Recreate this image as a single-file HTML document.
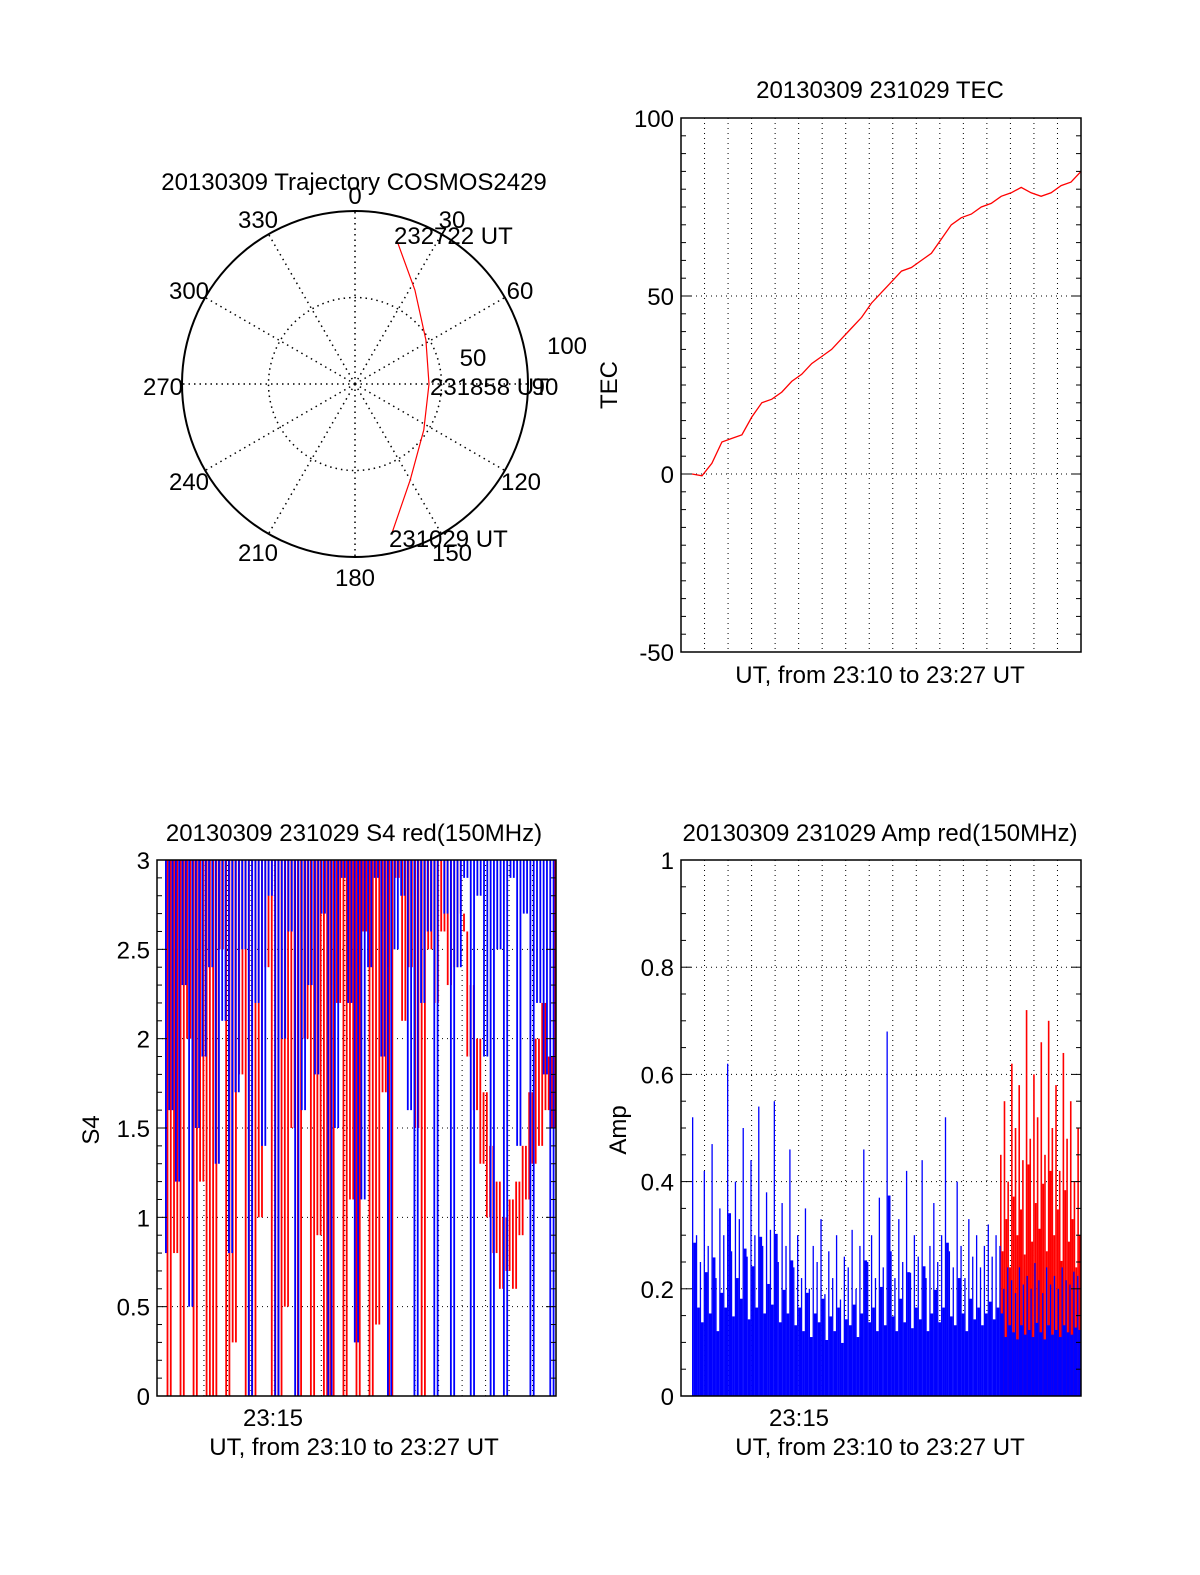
<!DOCTYPE html>
<html><head><meta charset="utf-8">
<style>
html,body{margin:0;padding:0;background:#fff;}
svg{display:block;font-family:"Liberation Sans",sans-serif;}
text{fill:#000;font-size:24px;}
</style></head>
<body>
<svg id="chart" width="1200" height="1575" viewBox="0 0 1200 1575" xmlns="http://www.w3.org/2000/svg">
<rect width="1200" height="1575" fill="#fff"/>
<g id="polar"></g>
<g id="tec"></g>
<g id="s4"></g>
<g id="amp"></g>
</svg>
<script>
// ---- data ----
const trajAz  = [166, 150, 123.7, 90, 58.2, 32.5, 16.4];
const trajZen = [79.7, 57.5, 43, 38.5, 43.4, 58, 77.5];
const tecVals = [0,-0.5,3,9,10,11,16,20,21,23,26,28,31,33,35,38,41,44,48,51,54,57,58,60,62,66,70,72,73,75,76,78,79,80.5,79,78,79,81,82,85];
const tecTicks = [-50, 0, 50, 100];
const s4Red = [3,0,3,0.8,3,0,3,2,3,0, 3,1.2,3,0,3,0,3,2.5,3,0, 3,0.3,3,1.8,3,0,3,0,3,1, 3,2.4,3,0,3,0,3,0.5,3,1.5, 3,0,3,2,3,0,3,0.9,3,0, 3,0,3,2.2,3,0,3,1.1,3,0, 3,2.6,3,0,3,0.4,3,1.7,3,0, 3,2.9,3,2.1,3,2.4,3,1.5,3,0, 3,2.5,3,2.2,3,2.6,3,2.3,3,2.4, 3,2.7,
  2.6,1.9,2.3,1.6,2.0,1.3,1.7,1.0,1.4,0.8,1.2,0.6,1.0,0.7,1.1,0.6,1.2,0.9,1.4,1.1,1.7,1.3,2.0,1.4,2.2,1.6,1.9,1.5];
const s4Blue = [0.8,3,1.6,3,1.2,3,2.3,3,0.5,3,1.5,3,1.9,3,2.4,3,1.3,3,2.1,3,0.8,3,1.7,3,2.5,3,0,3,2.2,3,1.4,3,2.8,3,0,3,2,3,2.6,3,0,3,1.6,3,2.3,3,1.8,3,2.7,3,0,3,1.5,3,2.9,3,2.2,3,0.3,3,1.1,3,2.4,3,2.9,3,1.9,3,0,3,2.5,3,2.8,3,1.6,3,0,3,2.2,3,2.6,3,0,3,3,2.7,3,0,3,2.4,3,2.9,3,0,3,2.8,3,1.9,3,0,3,2.5,3,0,3,2.9,3,1.4,3,2.7,3,0,3,2.2,3,1.8,3,0];
const s4Ticks = ["0","0.5","1","1.5","2","2.5","3"];
const ampBlue = [0.52,0.3,0.25,0.42,0.28,0.47,0.22,0.35,0.3,0.62,0.27,0.4,0.33,0.5,0.26,0.44,0.3,0.54,0.28,0.38,0.31,0.55,0.25,0.36,0.28,0.46,0.24,0.3,0.22,0.35,0.2,0.28,0.25,0.33,0.19,0.27,0.22,0.3,0.18,0.26,0.24,0.31,0.2,0.28,0.46,0.25,0.3,0.22,0.37,0.24,0.68,0.27,0.22,0.33,0.25,0.42,0.23,0.3,0.26,0.44,0.22,0.28,0.36,0.25,0.3,0.52,0.27,0.24,0.4,0.28,0.22,0.33,0.26,0.3,0.24,0.28,0.32,0.26,0.3,0.28,0.25,0.3,0.27,0.24,0.3,0.26,0.28,0.25,0.31,0.27,0.24,0.3,0.26,0.28,0.25,0.3,0.27,0.26,0.29,0.28];
const ampRed = [0.45,0.55,0.4,0.62,0.5,0.58,0.44,0.72,0.48,0.6,0.52,0.66,0.45,0.7,0.5,0.58,0.42,0.64,0.48,0.55,0.4,0.5];
const ampTicks = ["0","0.2","0.4","0.6","0.8","1"];

const NS = "http://www.w3.org/2000/svg";
function mk(parent, tag, attrs, txt){
  const e = document.createElementNS(NS, tag);
  for (const k in attrs) e.setAttribute(k, attrs[k]);
  if (txt !== undefined) e.textContent = txt;
  parent.appendChild(e);
  return e;
}

// ---- polar ----
(function(){
  const g = document.getElementById('polar');
  const cx = 355, cy = 384, R = 173;
  const rOf = z => z / 90 * R;
  mk(g,'circle',{cx,cy,r:R,fill:'none',stroke:'#000','stroke-width':2});
  mk(g,'circle',{cx,cy,r:R/2,fill:'none',stroke:'#000','stroke-width':1.5,'stroke-dasharray':'1.5,4'});
  for (let a = 0; a < 360; a += 30) {
    const t = a*Math.PI/180;
    const l = mk(g,'line',{x1:cx,y1:cy,x2:cx+R*Math.sin(t),y2:cy-R*Math.cos(t),stroke:'#000','stroke-width':1.5,'stroke-dasharray':'1.5,4'});
    
    
  }
  const labs = [[0,355,204],[30,452,228],[60,520,299],[90,545,395],[120,521,490],[150,452,561],[180,355,586],[210,258,561],[240,189,490],[270,163,395],[300,189,299],[330,258,228]];
  labs.forEach(d => {
    const t = mk(g,'text',{x:d[1],y:d[2],'text-anchor':'middle'},String(d[0]));
    
    
  });
  mk(g,'text',{x:473,y:366,'text-anchor':'middle',},'50');
  mk(g,'text',{x:567,y:354,'text-anchor':'middle',},'100');
  mk(g,'text',{x:354,y:190,'text-anchor':'middle',},'20130309 Trajectory COSMOS2429');
  const pts = trajAz.map((a,i)=>{const t=a*Math.PI/180, r=rOf(trajZen[i]); return (cx+r*Math.sin(t)).toFixed(1)+','+(cy-r*Math.cos(t)).toFixed(1);});
  const p = mk(g,'polyline',{points:pts.join(' '),fill:'none',stroke:'#f00','stroke-width':1.2});
  
  
  mk(g,'text',{x:394,y:244,},'232722 UT');
  mk(g,'text',{x:430,y:395,},'231858 UT');
  mk(g,'text',{x:389,y:547,},'231029 UT');
})();

function framePanel(g, x0, y0, x1, y1, yTicks, yMin, yMax, minorStep, hGrid){
  const ys = v => y1 - (v - yMin)/(yMax - yMin)*(y1 - y0);
  const step = (x1 - x0) / 17;
  for (let i = 1; i < 17; i++) {
    const gx = x0 + i*step;
    const l = mk(g,'line',{x1:gx,y1:y0,x2:gx,y2:y1,stroke:'#000','stroke-width':1,'stroke-dasharray':'1,4'});
    
    
  }
  hGrid.forEach(v => {
    const l = mk(g,'line',{x1:x0,y1:ys(v),x2:x1,y2:ys(v),stroke:'#000','stroke-width':1,'stroke-dasharray':'1,4'});
    
    
  });
  return {ys, step};
}
function frameBorder(g, x0, y0, x1, y1, yTicks, yMin, yMax, minorStep, ys){
  mk(g,'rect',{x:x0,y:y0,width:x1-x0,height:y1-y0,fill:'none',stroke:'#000','stroke-width':1.5});
  for (let v = yMin; v <= yMax + 1e-9; v += minorStep) {
    const major = yTicks.some(t => Math.abs(parseFloat(t)-v) < 1e-6);
    const len = major ? 10 : 5;
    mk(g,'line',{x1:x0,y1:ys(v),x2:x0+len,y2:ys(v),stroke:'#000','stroke-width':1});
    mk(g,'line',{x1:x1,y1:ys(v),x2:x1-len,y2:ys(v),stroke:'#000','stroke-width':1});
  }
  yTicks.forEach(t => {
    const tx = mk(g,'text',{x:x0-7,y:ys(parseFloat(t))+9,'text-anchor':'end'},String(t));
    
    
  });
}

// ---- TEC ----
(function(){
  const g = document.getElementById('tec');
  const x0=681,y0=118,x1=1081,y1=652;
  const {ys} = framePanel(g,x0,y0,x1,y1,tecTicks,-50,100,5,[0,50]);
  const xs = i => 692 + i*(1081-692)/(tecVals.length-1);
  const pts = tecVals.map((v,i)=>xs(i).toFixed(1)+','+ys(v).toFixed(1));
  const p = mk(g,'polyline',{points:pts.join(' '),fill:'none',stroke:'#f00','stroke-width':1.3});
  
  
  frameBorder(g,x0,y0,x1,y1,tecTicks,-50,100,5,ys);
  mk(g,'text',{x:880,y:98,'text-anchor':'middle',},'20130309 231029 TEC');
  mk(g,'text',{x:880,y:683,'text-anchor':'middle',},'UT, from 23:10 to 23:27 UT');
  mk(g,'text',{x:0,y:0,'text-anchor':'middle',transform:'translate(617,385) rotate(-90)',},'TEC');
})();

// ---- S4 ----
(function(){
  const g = document.getElementById('s4');
  const x0=157,y0=860,x1=556,y1=1396;
  const {ys} = framePanel(g,x0,y0,x1,y1,s4Ticks,0,3,0.1,[0.5,1,1.5,2,2.5]);
  function draw(vals, color, off, name){
    const n = vals.length, st = (x1 - 165)/(n);
    for (let i = 0; i < n; i++) {
      const a = vals[i], b = i+1<n ? vals[i+1] : vals[i];
      const lo = Math.min(a,b), hi = Math.max(a,b, a===b ? 3 : 0);
      const r = mk(g,'rect',{x:165+i*st+off,y:ys(hi),width:1.8,height:Math.max(1,ys(lo)-ys(hi)),fill:color});
      
      
    }
  }
  draw(s4Red,'#f00',1.6,'s4-red-mark');
  draw(s4Blue,'#00f',0,'s4-blue-mark');
  frameBorder(g,x0,y0,x1,y1,s4Ticks,0,3,0.1,ys);
  mk(g,'text',{x:354,y:841,'text-anchor':'middle',},'20130309 231029 S4 red(150MHz)');
  mk(g,'text',{x:273,y:1426,'text-anchor':'middle',},'23:15');
  mk(g,'text',{x:354,y:1455,'text-anchor':'middle',},'UT, from 23:10 to 23:27 UT');
  mk(g,'text',{x:0,y:0,'text-anchor':'middle',transform:'translate(99,1130) rotate(-90)',},'S4');
})();

// ---- Amp ----
(function(){
  const g = document.getElementById('amp');
  const x0=681,y0=860,x1=1081,y1=1396;
  const {ys} = framePanel(g,x0,y0,x1,y1,ampTicks,0,1,0.05,[0.2,0.4,0.6,0.8]);
  const rs = (x1-1000)/ampRed.length;
  ampRed.forEach((v,i)=>{
    const r = mk(g,'rect',{x:1000+i*rs,y:ys(v),width:1.6,height:ys(0)-ys(v),fill:'#f00'});
    
    
    const r2 = mk(g,'rect',{x:1000+i*rs+1.6,y:ys(v*0.6),width:rs-1.6,height:ys(0)-ys(v*0.6),fill:'#f00'});
    
    
  });
  const bs = (x1-692)/ampBlue.length;
  ampBlue.forEach((v,i)=>{
    const inRed = 692+i*bs >= 1000;
    const top = inRed ? v*0.8 : v;
    const r = mk(g,'rect',{x:692+i*bs,y:ys(top),width:1.3,height:ys(0)-ys(top),fill:'#00f'});
    
    
    const h2 = top*0.55;
    const r2 = mk(g,'rect',{x:692+i*bs+1.2,y:ys(h2),width:bs-1.1,height:ys(0)-ys(h2),fill:'#00f'});
    
    
  });
  frameBorder(g,x0,y0,x1,y1,ampTicks,0,1,0.05,ys);
  mk(g,'text',{x:880,y:841,'text-anchor':'middle',},'20130309 231029 Amp red(150MHz)');
  mk(g,'text',{x:799,y:1426,'text-anchor':'middle',},'23:15');
  mk(g,'text',{x:880,y:1455,'text-anchor':'middle',},'UT, from 23:10 to 23:27 UT');
  mk(g,'text',{x:0,y:0,'text-anchor':'middle',transform:'translate(626,1130) rotate(-90)',},'Amp');
})();
</script>
</body></html>
